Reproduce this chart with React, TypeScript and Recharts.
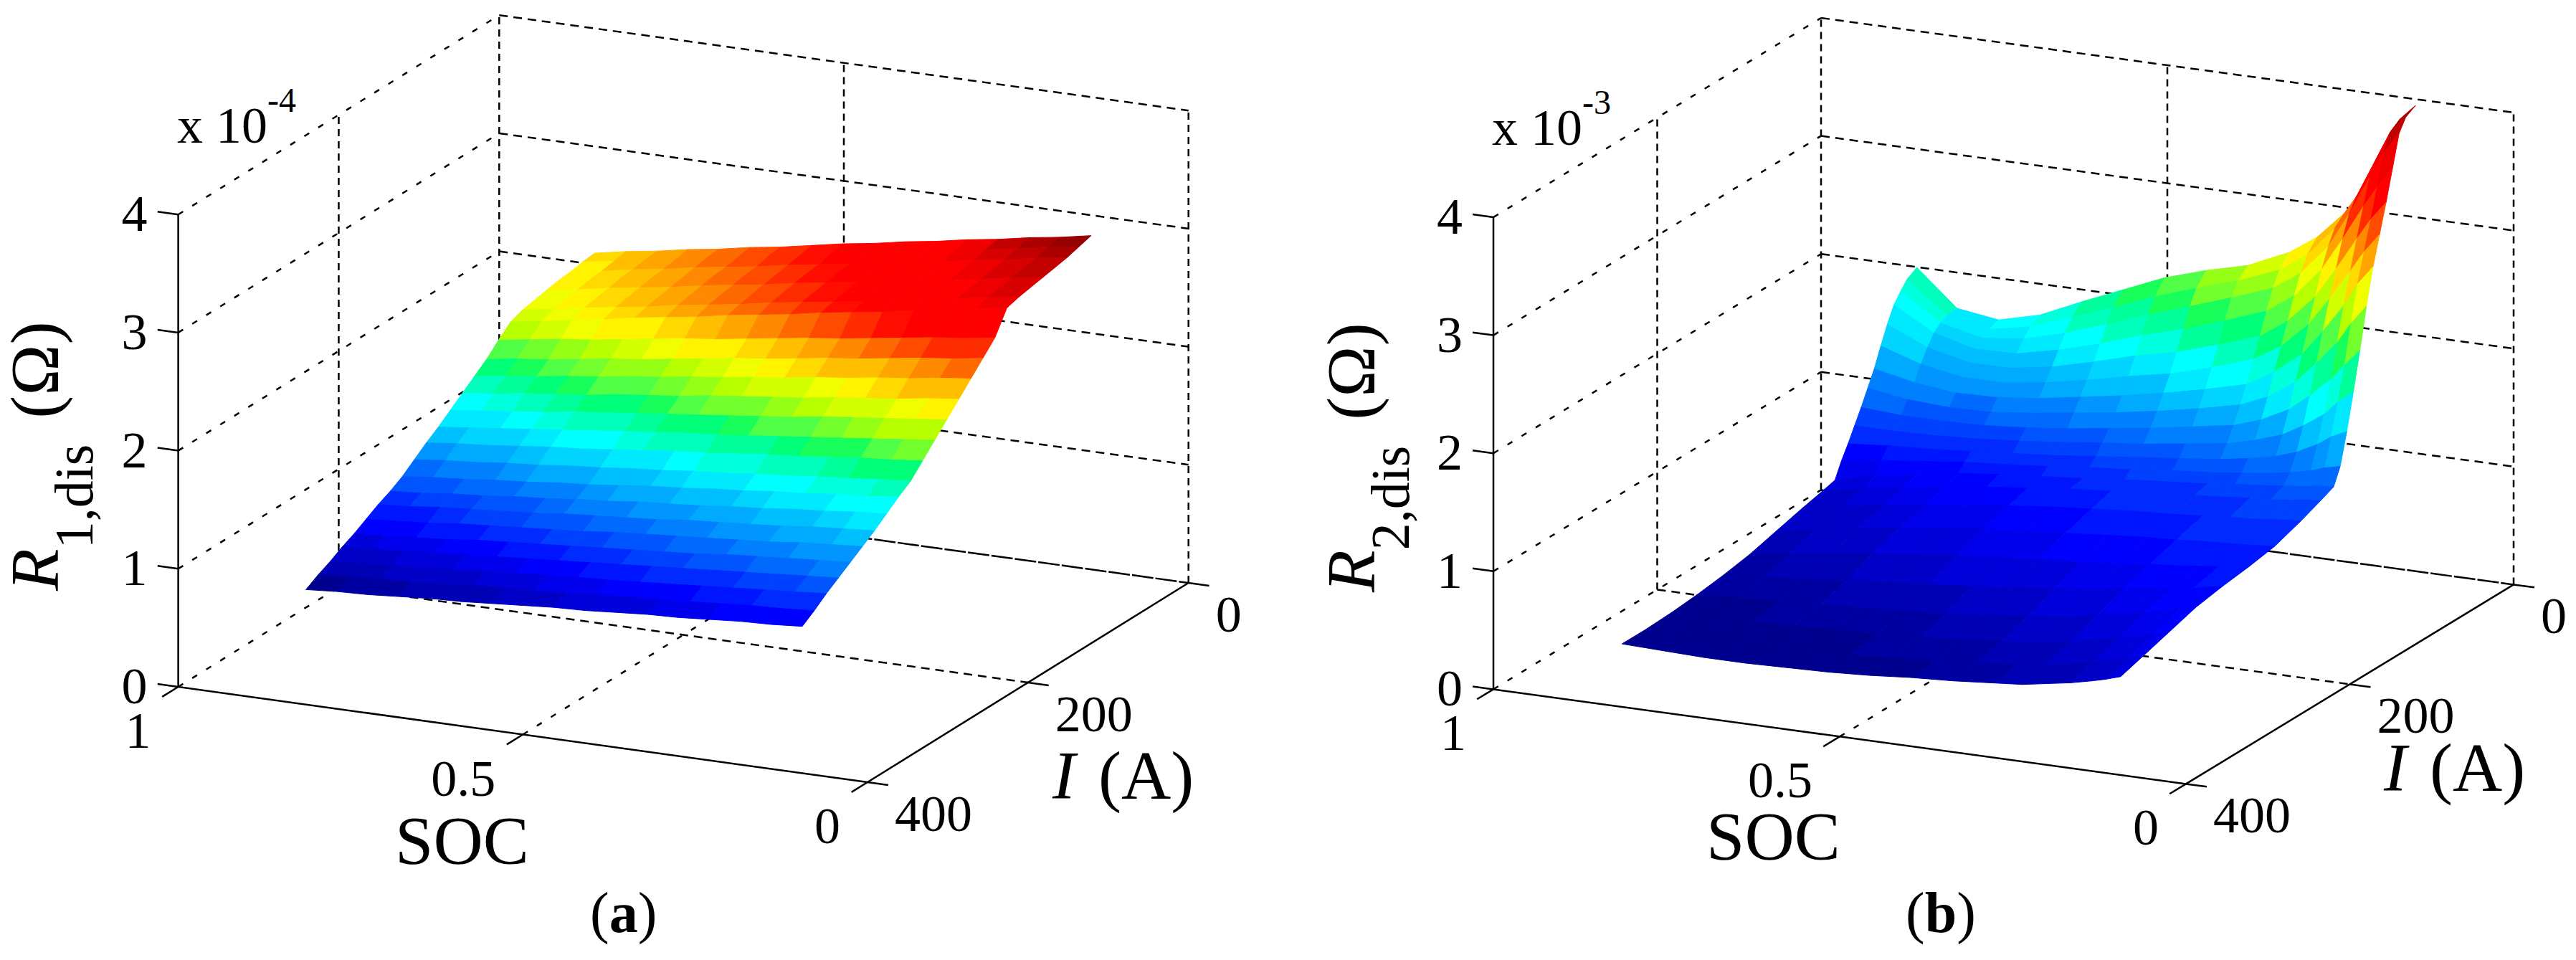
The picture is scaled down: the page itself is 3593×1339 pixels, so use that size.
import { ScatterChart, Scatter, XAxis, YAxis, ReferenceLine } from "recharts";

const zTicks = [0, 1, 2, 3, 4];
const socTicks = [1, 0.5, 0];
const currentTicks = [400, 200, 0];

// R1,dis surface, x 10^-4 ohm
const socR1 = [0.838, 0.793, 0.748, 0.703, 0.658, 0.613, 0.568, 0.523, 0.478, 0.433, 0.388, 0.343, 0.298, 0.253, 0.208, 0.163, 0.118];
const currentR1 = [380, 365, 350, 335, 320, 305, 290, 275, 260, 245, 230, 215, 200, 185, 170, 155, 140, 125, 110, 95, 80, 65, 50, 35, 20];
const valuesR1 = [
  [0.87, 0.89, 0.9, 0.92, 0.94, 0.95, 0.97, 0.99, 1.01, 1.02, 1.04, 1.06, 1.07, 1.09, 1.11, 1.12, 1.14],
  [0.93, 0.95, 0.97, 0.98, 1.0, 1.02, 1.04, 1.05, 1.07, 1.09, 1.11, 1.12, 1.14, 1.16, 1.18, 1.19, 1.21],
  [0.98, 1.0, 1.02, 1.04, 1.06, 1.08, 1.1, 1.12, 1.14, 1.15, 1.17, 1.19, 1.21, 1.23, 1.25, 1.27, 1.29],
  [1.04, 1.06, 1.08, 1.1, 1.12, 1.14, 1.16, 1.18, 1.2, 1.22, 1.24, 1.26, 1.28, 1.3, 1.32, 1.34, 1.36],
  [1.09, 1.11, 1.13, 1.15, 1.18, 1.2, 1.22, 1.24, 1.26, 1.28, 1.3, 1.32, 1.35, 1.37, 1.39, 1.41, 1.43],
  [1.15, 1.17, 1.19, 1.22, 1.24, 1.26, 1.28, 1.3, 1.33, 1.35, 1.37, 1.39, 1.41, 1.43, 1.46, 1.48, 1.5],
  [1.21, 1.23, 1.26, 1.28, 1.3, 1.32, 1.35, 1.37, 1.39, 1.41, 1.44, 1.46, 1.48, 1.5, 1.53, 1.55, 1.57],
  [1.26, 1.28, 1.31, 1.33, 1.36, 1.38, 1.41, 1.43, 1.46, 1.48, 1.5, 1.53, 1.55, 1.58, 1.6, 1.63, 1.65],
  [1.32, 1.35, 1.37, 1.4, 1.42, 1.45, 1.47, 1.5, 1.53, 1.55, 1.58, 1.6, 1.63, 1.65, 1.68, 1.7, 1.73],
  [1.4, 1.43, 1.45, 1.48, 1.5, 1.53, 1.55, 1.58, 1.6, 1.63, 1.65, 1.68, 1.7, 1.73, 1.75, 1.78, 1.8],
  [1.48, 1.51, 1.53, 1.56, 1.59, 1.61, 1.64, 1.67, 1.7, 1.72, 1.75, 1.78, 1.8, 1.83, 1.86, 1.88, 1.91],
  [1.55, 1.58, 1.61, 1.64, 1.67, 1.7, 1.73, 1.76, 1.79, 1.81, 1.84, 1.87, 1.9, 1.93, 1.96, 1.99, 2.02],
  [1.63, 1.66, 1.69, 1.72, 1.76, 1.79, 1.82, 1.85, 1.88, 1.91, 1.94, 1.97, 2.01, 2.04, 2.07, 2.1, 2.13],
  [1.71, 1.74, 1.78, 1.81, 1.84, 1.88, 1.91, 1.94, 1.98, 2.01, 2.04, 2.07, 2.11, 2.14, 2.17, 2.21, 2.24],
  [1.79, 1.83, 1.86, 1.9, 1.93, 1.97, 2.0, 2.04, 2.07, 2.11, 2.14, 2.18, 2.21, 2.25, 2.28, 2.32, 2.35],
  [1.87, 1.91, 1.94, 1.98, 2.02, 2.05, 2.09, 2.13, 2.17, 2.2, 2.24, 2.28, 2.31, 2.35, 2.39, 2.42, 2.46],
  [1.97, 2.01, 2.05, 2.08, 2.12, 2.16, 2.2, 2.23, 2.27, 2.31, 2.35, 2.38, 2.42, 2.46, 2.5, 2.53, 2.57],
  [2.06, 2.1, 2.15, 2.19, 2.24, 2.28, 2.32, 2.37, 2.41, 2.45, 2.5, 2.54, 2.58, 2.63, 2.67, 2.72, 2.76],
  [2.1, 2.14, 2.19, 2.23, 2.27, 2.32, 2.36, 2.4, 2.45, 2.49, 2.53, 2.57, 2.62, 2.66, 2.7, 2.75, 2.79],
  [2.12, 2.16, 2.21, 2.25, 2.29, 2.34, 2.38, 2.42, 2.47, 2.51, 2.55, 2.59, 2.64, 2.68, 2.72, 2.77, 2.81],
  [2.14, 2.18, 2.23, 2.27, 2.31, 2.36, 2.4, 2.44, 2.49, 2.53, 2.57, 2.61, 2.66, 2.7, 2.74, 2.79, 2.83],
  [2.16, 2.2, 2.25, 2.29, 2.33, 2.38, 2.42, 2.46, 2.51, 2.55, 2.59, 2.63, 2.68, 2.72, 2.76, 2.81, 2.85],
  [2.17, 2.21, 2.26, 2.3, 2.35, 2.39, 2.43, 2.48, 2.52, 2.56, 2.61, 2.65, 2.69, 2.74, 2.78, 2.83, 2.87],
  [2.19, 2.23, 2.28, 2.32, 2.37, 2.41, 2.46, 2.5, 2.55, 2.59, 2.63, 2.68, 2.72, 2.77, 2.81, 2.86, 2.9],
  [2.2, 2.25, 2.29, 2.34, 2.38, 2.43, 2.47, 2.52, 2.57, 2.61, 2.66, 2.7, 2.75, 2.79, 2.84, 2.88, 2.93],
];

// R2,dis surface, x 10^-3 ohm
const socR2 = [0.838, 0.78, 0.72, 0.66, 0.6, 0.54, 0.48, 0.42, 0.36, 0.3, 0.26, 0.22, 0.19, 0.16, 0.14, 0.118];
const currentR2 = [380, 352, 320, 288, 256, 224, 192, 160, 136, 120, 112, 104, 96, 88, 80, 72, 64, 56, 48, 40, 32, 20];
const valuesR2 = [
  [0.43, 0.42, 0.41, 0.41, 0.42, 0.43, 0.45, 0.48, 0.5, 0.53, 0.55, 0.59, 0.62, 0.66, 0.69, 0.73],
  [0.43, 0.43, 0.43, 0.44, 0.45, 0.46, 0.48, 0.5, 0.53, 0.57, 0.6, 0.64, 0.68, 0.72, 0.75, 0.79],
  [0.44, 0.45, 0.46, 0.47, 0.49, 0.5, 0.52, 0.55, 0.58, 0.62, 0.66, 0.71, 0.75, 0.79, 0.82, 0.86],
  [0.46, 0.48, 0.5, 0.52, 0.54, 0.56, 0.58, 0.62, 0.66, 0.7, 0.75, 0.79, 0.83, 0.87, 0.9, 0.93],
  [0.49, 0.52, 0.55, 0.59, 0.62, 0.65, 0.68, 0.72, 0.76, 0.8, 0.84, 0.87, 0.89, 0.92, 0.95, 0.97],
  [0.53, 0.58, 0.63, 0.68, 0.72, 0.76, 0.79, 0.82, 0.85, 0.88, 0.91, 0.93, 0.95, 0.97, 0.98, 1.0],
  [0.59, 0.65, 0.71, 0.76, 0.81, 0.85, 0.88, 0.91, 0.94, 0.97, 0.98, 1.0, 1.01, 1.02, 1.03, 1.04],
  [0.65, 0.71, 0.77, 0.82, 0.87, 0.91, 0.95, 0.98, 1.01, 1.03, 1.05, 1.07, 1.08, 1.1, 1.11, 1.12],
  [0.69, 0.76, 0.82, 0.88, 0.92, 0.96, 1.0, 1.03, 1.06, 1.09, 1.11, 1.13, 1.14, 1.16, 1.18, 1.19],
  [0.72, 0.8, 0.86, 0.92, 0.96, 0.99, 1.02, 1.06, 1.09, 1.12, 1.15, 1.17, 1.19, 1.21, 1.23, 1.24],
  [0.85, 0.9, 0.94, 0.98, 1.01, 1.04, 1.08, 1.11, 1.15, 1.18, 1.21, 1.24, 1.27, 1.31, 1.35, 1.38],
  [0.96, 0.99, 1.01, 1.04, 1.07, 1.1, 1.14, 1.18, 1.22, 1.26, 1.3, 1.35, 1.41, 1.5, 1.58, 1.64],
  [1.08, 1.08, 1.09, 1.11, 1.14, 1.18, 1.22, 1.26, 1.31, 1.36, 1.42, 1.5, 1.6, 1.72, 1.84, 1.94],
  [1.2, 1.18, 1.18, 1.19, 1.22, 1.26, 1.31, 1.36, 1.42, 1.48, 1.56, 1.68, 1.82, 1.98, 2.12, 2.26],
  [1.33, 1.28, 1.26, 1.27, 1.31, 1.36, 1.41, 1.47, 1.54, 1.62, 1.72, 1.88, 2.06, 2.26, 2.44, 2.6],
  [1.46, 1.39, 1.35, 1.36, 1.4, 1.46, 1.52, 1.59, 1.67, 1.76, 1.9, 2.08, 2.3, 2.54, 2.74, 2.9],
  [1.62, 1.51, 1.45, 1.45, 1.5, 1.57, 1.65, 1.72, 1.82, 1.94, 2.08, 2.3, 2.54, 2.8, 2.98, 3.14],
  [1.77, 1.62, 1.54, 1.54, 1.6, 1.69, 1.79, 1.87, 1.98, 2.1, 2.26, 2.5, 2.76, 3.04, 3.22, 3.38],
  [1.9, 1.71, 1.62, 1.63, 1.71, 1.81, 1.93, 2.03, 2.15, 2.28, 2.44, 2.7, 2.98, 3.28, 3.46, 3.64],
  [1.98, 1.76, 1.68, 1.72, 1.82, 1.94, 2.07, 2.19, 2.31, 2.44, 2.6, 2.86, 3.16, 3.5, 3.72, 3.9],
  [2.05, 1.79, 1.72, 1.79, 1.92, 2.05, 2.19, 2.31, 2.42, 2.56, 2.72, 2.98, 3.26, 3.62, 3.86, 4.0],
  [2.1, 1.8, 1.75, 1.84, 2.0, 2.15, 2.3, 2.41, 2.5, 2.66, 2.82, 3.06, 3.33, 3.72, 3.92, 4.05],
];

// jet-like colour stops as they look in the picture
const colorStops: [number, number[]][] = [
  [0, [0, 0, 143]],
  [0.125, [0, 0, 255]],
  [0.375, [0, 255, 255]],
  [0.47, [0, 255, 102]],
  [0.5, [80, 255, 70]],
  [0.56, [180, 255, 0]],
  [0.615, [255, 255, 0]],
  [0.7, [255, 150, 0]],
  [0.8, [255, 0, 0]],
  [0.88, [255, 0, 0]],
  [1, [128, 0, 0]],
];

const colorFor = (t: number) => {
  const q = Math.floor(Math.min(t, 0.999) * 48) / 48;
  for (let k = 1; k < colorStops.length; k++) {
    const [t1, c1] = colorStops[k];
    const [t0, c0] = colorStops[k - 1];
    if (q <= t1) {
      const f = (q - t0) / (t1 - t0);
      const c = c0.map((v, n) => Math.round(v + (c1[n] - v) * f));
      return `rgb(${c.join(",")})`;
    }
  }
  return "rgb(128,0,0)";
};

type View = {
  left: number;
  width: number;
  origin: number[];
  ex: number[];
  ey: number[];
  ez: number;
};

const HEIGHT = 1339;
const SERIF = "'Liberation Serif', serif";

const project = (v: View, soc: number, current: number, z: number) => {
  const a = 1 - soc;
  const b = (400 - current) / 400;
  return {
    x: v.origin[0] + a * v.ex[0] + b * v.ey[0],
    y: v.origin[1] + a * v.ex[1] + b * v.ey[1] - z * v.ez,
  };
};

// facets far to near so the nearer ones paint over
const buildFacets = (v: View, socs: number[], currents: number[], rows: number[][]) => {
  const all = rows.flat();
  const min = Math.min(...all);
  const max = Math.max(...all);
  const facets: any[] = [];
  for (let i = currents.length - 2; i >= 0; i--) {
    for (let j = 0; j < socs.length - 1; j++) {
      const corners = [
        project(v, socs[j], currents[i], rows[i][j]),
        project(v, socs[j + 1], currents[i], rows[i][j + 1]),
        project(v, socs[j + 1], currents[i + 1], rows[i + 1][j + 1]),
        project(v, socs[j], currents[i + 1], rows[i + 1][j]),
      ];
      const x = corners.reduce((s, c) => s + c.x, 0) / 4;
      const y = corners.reduce((s, c) => s + c.y, 0) / 4;
      const z = (rows[i][j] + rows[i][j + 1] + rows[i + 1][j + 1] + rows[i + 1][j]) / 4;
      facets.push({
        x,
        y,
        fill: colorFor((z - min) / (max - min)),
        offsets: corners.map((c) => [c.x - x, c.y - y]),
      });
    }
  }
  return facets;
};

const Facet = (props: any) => {
  const { cx, cy, payload } = props;
  const pts = payload.offsets.map((o: number[]) => `${cx + o[0]},${cy + o[1]}`).join(" ");
  return <polygon points={pts} fill={payload.fill} stroke={payload.fill} strokeWidth={1} />;
};

const Seg = (a: any, b: any, dash?: string, key?: string) => (
  <ReferenceLine
    key={key}
    segment={[a, b]}
    stroke="#000"
    strokeWidth={2.5}
    strokeDasharray={dash}
    ifOverflow="visible"
  />
);

const DASH_V = "10 7";
const DASH_I = "8 15";
const DASH_S = "12 8";

function gridLines(v: View) {
  const out: any[] = [];
  zTicks.forEach((z) => {
    out.push(Seg(project(v, 1, 400, z), project(v, 1, 0, z), DASH_I, `i${z}`));
    out.push(Seg(project(v, 1, 0, z), project(v, 0, 0, z), z === 0 ? "30 3" : DASH_S, `s${z}`));
  });
  [[1, 200], [1, 0], [0.5, 0], [0, 0]].forEach(([s, c]) => {
    out.push(Seg(project(v, s, c, 0), project(v, s, c, 4), DASH_V, `v${s}${c}`));
  });
  out.push(Seg(project(v, 0.5, 400, 0), project(v, 0.5, 0, 0), DASH_I, "f1"));
  out.push(Seg(project(v, 1, 200, 0), project(v, 0, 200, 0), DASH_S, "f2"));
  // solid axes and their ticks
  out.push(Seg(project(v, 1, 400, 0), project(v, 1, 400, 4), undefined, "az"));
  out.push(Seg(project(v, 1, 400, 0), project(v, 0, 400, 0), undefined, "as"));
  out.push(Seg(project(v, 0, 400, 0), project(v, 0, 0, 0), undefined, "ai"));
  zTicks.forEach((z) => out.push(Seg(project(v, 1, 400, z), project(v, 1.03, 400, z), undefined, `tz${z}`)));
  socTicks.forEach((s) => out.push(Seg(project(v, s, 400, 0), project(v, s, 420, 0), undefined, `ts${s}`)));
  currentTicks.forEach((c) => out.push(Seg(project(v, 0, c, 0), project(v, -0.03, c, 0), undefined, `ti${c}`)));
  return out;
}

function tickMarks(v: View) {
  const out: any[] = [];
  zTicks.forEach((z) => {
    const p = project(v, 1, 400, z);
    out.push({ x: p.x - 43, y: p.y + 23, text: String(z), anchor: "end" });
  });
  socTicks.forEach((s) => {
    const p = project(v, s, 400, 0);
    out.push({ x: p.x - 38, y: p.y + 85, text: String(s), anchor: "end" });
  });
  currentTicks.forEach((c) => {
    const p = project(v, 0, c, 0);
    out.push({ x: p.x + 38, y: p.y + 68, text: String(c), anchor: "start" });
  });
  return out;
}

const TickText = (props: any) => {
  const { cx, cy, payload } = props;
  return (
    <text x={cx} y={cy} textAnchor={payload.anchor} fontSize={72} fontFamily={SERIF} fill="#000">
      {payload.text}
    </text>
  );
};

const Panel = ({ view, facets, pos, sub, exp, tag }: any) => {
  const lx = pos.ylabel[0] - view.left;
  const ly = pos.ylabel[1];
  return (
    <div style={{ position: "absolute", left: view.left, top: 0 }}>
      <ScatterChart width={view.width} height={HEIGHT} margin={{ top: 0, right: 0, bottom: 0, left: 0 }}>
        <XAxis type="number" dataKey="x" hide allowDataOverflow domain={[view.left, view.left + view.width]} />
        <YAxis type="number" dataKey="y" hide allowDataOverflow reversed domain={[0, HEIGHT]} />
        {gridLines(view)}
        <Scatter data={facets} shape={Facet} isAnimationActive={false} />
        <Scatter data={tickMarks(view)} shape={TickText} isAnimationActive={false} />
        <g fontFamily={SERIF} fill="#000">
          <text x={pos.exp[0] - view.left} y={pos.exp[1]} fontSize={72}>x 10</text>
          <text x={pos.exp[0] - view.left + 126} y={pos.exp[1] - 43} fontSize={48}>{exp}</text>
          <text x={pos.soc[0] - view.left} y={pos.soc[1]} fontSize={96}>SOC</text>
          <text x={pos.amp[0] - view.left} y={pos.amp[1]} fontSize={96}>
            <tspan fontStyle="italic">I</tspan>
            <tspan dx={32}>(A)</tspan>
          </text>
          <text x={lx} y={ly} fontSize={96} transform={`rotate(-90 ${lx} ${ly})`}>
            <tspan fontStyle="italic">R</tspan>
            <tspan fontSize={76} dy={48}>{sub}</tspan>
            <tspan dy={-48} dx={36}>(Ω)</tspan>
          </text>
          <text x={pos.tag[0] - view.left} y={pos.tag[1]} fontSize={80}>
            (<tspan fontWeight="bold">{tag}</tspan>)
          </text>
        </g>
      </ScatterChart>
    </div>
  );
};

const viewA: View = { left: 0, width: 1800, origin: [248.6, 958], ex: [961.4, 133], ey: [447.7, -278], ez: 164.7 };
const viewB: View = { left: 1800, width: 1793, origin: [2083, 961.4], ex: [966, 132], ey: [457, -278], ez: 164.6 };

const posA = { ylabel: [81, 824], exp: [247, 199], soc: [551, 1205], amp: [1468, 1114], tag: [823, 1300] };
const posB = { ylabel: [1917, 826], exp: [2081, 202], soc: [2380, 1199], amp: [3325, 1103], tag: [2658, 1300] };

const facetsA = buildFacets(viewA, socR1, currentR1, valuesR1);
const facetsB = buildFacets(viewB, socR2, currentR2, valuesR2);

export default function App() {
  return (
    <div style={{ position: "absolute", left: 0, top: 0, width: 3593, height: HEIGHT, background: "#fff", overflow: "hidden" }}>
      <Panel view={viewA} facets={facetsA} pos={posA} sub="1,dis" exp="-4" tag="a" />
      <Panel view={viewB} facets={facetsB} pos={posB} sub="2,dis" exp="-3" tag="b" />
    </div>
  );
}
